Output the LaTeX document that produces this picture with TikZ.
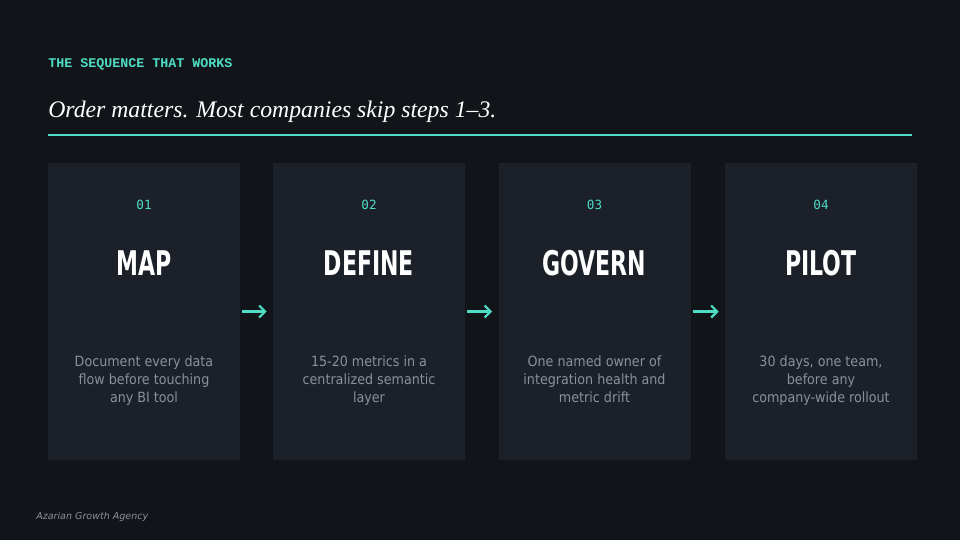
\documentclass[tikz,border=0pt]{standalone}
\usepackage{fontspec}
\setmainfont{Liberation Serif}
\newfontfamily\titlefont{Liberation Serif}
\newfontfamily\monofont{Liberation Mono}
\newfontfamily\numfont{DejaVu Sans Mono}
\newfontfamily\headfont[FakeStretch=0.72]{DejaVu Sans Condensed}
\newfontfamily\bodyfont{DejaVu Sans Condensed}
\newfontfamily\footfont{DejaVu Sans}
\usetikzlibrary{arrows.meta}
\definecolor{bg}{HTML}{111519}
\definecolor{card}{HTML}{1B2029}
\definecolor{teal}{HTML}{4FDCC4}
\definecolor{bodygray}{HTML}{8A919B}
\definecolor{footgray}{HTML}{8A919B}
\tikzset{
  cardbox/.style={fill=card, draw=none, minimum width=144pt, minimum height=222.75pt, inner sep=0pt},
  numtext/.style={text=teal, font=\numfont\fontsize{9.5pt}{11pt}\selectfont},
  headtext/.style={text=white, font=\headfont\bfseries\fontsize{25.5pt}{28pt}\selectfont},
  bodytext/.style={text=bodygray, align=center, inner sep=0pt, font=\bodyfont\fontsize{10.6pt}{13.5pt}\selectfont},
  flowarrow/.style={draw=teal, line width=1.6pt, -{Straight Barb[length=4.5pt,width=9pt,line width=1.6pt]}, shorten <=1.5pt, shorten >=4.5pt}
}
\begin{document}
\begin{tikzpicture}[x=0.75pt,y=0.75pt]
\useasboundingbox[fill=bg] (0,0) rectangle (960,-540);
\node[anchor=base west, inner sep=0pt, text=teal, font=\monofont\bfseries\fontsize{10pt}{11pt}\selectfont] (kicker) at (48,-67) {THE SEQUENCE THAT WORKS};
\node[anchor=base west, inner sep=0pt, text=white, font=\titlefont\itshape\fontsize{17.8pt}{20pt}\selectfont] (title) at (48,-117) {Order matters. Most companies skip steps 1–3.};
\coordinate (ruleL) at (48,-135);
\coordinate (ruleR) at (912,-135);
\draw[teal, line width=0.9pt] (ruleL) -- (ruleR);

\foreach \i/\cx/\num/\head/\body in {
  1/144/01/MAP/{\strut Document every data\\flow before touching\\any BI tool\strut},
  2/369/02/DEFINE/{\strut 15-20 metrics in a\\centralized semantic\\layer\strut},
  3/594.5/03/GOVERN/{\strut One named owner of\\integration health and\\metric drift\strut},
  4/821/04/PILOT/{\strut 30 days, one team,\\before any\\company-wide rollout\strut}}{
  \node[cardbox] (c\i) at (\cx,-311.5) {};
  \node[numtext] (n\i) at (\cx,-205) {\num};
  \node[headtext] (h\i) at (\cx,-263) {\head};
  \node[bodytext] (b\i) at (\cx,-381) {\body};
}
\draw[flowarrow] (c1.east) -- (c2.west);
\draw[flowarrow] (c2.east) -- (c3.west);
\draw[flowarrow] (c3.east) -- (c4.west);

\node[anchor=base west, inner sep=0pt, text=footgray, font=\footfont\itshape\fontsize{7.15pt}{9pt}\selectfont] (foot) at (36,-519) {Azarian Growth Agency};
\end{tikzpicture}
\end{document}
